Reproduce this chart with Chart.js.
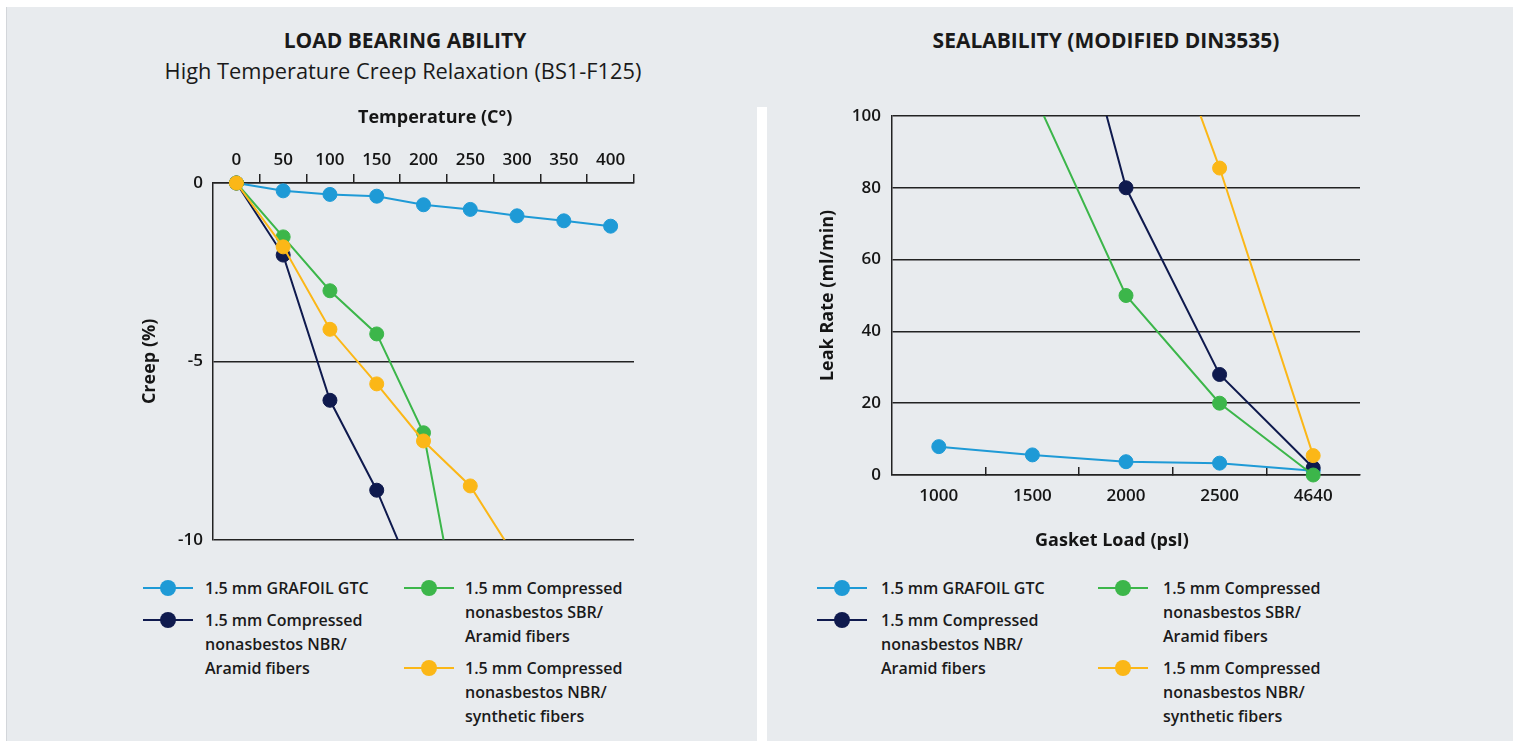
<!DOCTYPE html>
<html><head><meta charset="utf-8">
<script src="https://cdn.jsdelivr.net/npm/chart.js@4.4.1/dist/chart.umd.min.js"></script>
<style>
html,body{margin:0;padding:0;background:#fff;}
body{width:1519px;height:741px;position:relative;overflow:hidden;font-family:'Open Sans',sans-serif;color:#1a1a1a;}
#panel{position:absolute;left:6px;top:7px;width:1507px;height:734px;background:#e8ebee;border-left:1px solid #d3d6da;box-sizing:border-box;}
#sep{position:absolute;left:757px;top:107px;width:10px;height:634px;background:#fff;}
.h{position:absolute;text-align:center;white-space:nowrap;transform:translateX(-50%);line-height:24px;}
.cv{position:absolute;}
.item{position:absolute;font-size:16px;font-weight:600;line-height:24px;}
.sw{position:absolute;left:0;top:0;width:50px;height:24px;}
.sw i{position:absolute;left:0;right:0;top:11px;height:2px;}
.sw b{position:absolute;left:17px;top:4px;width:16px;height:16px;border-radius:50%;}
.tx{position:absolute;top:0;white-space:pre;}
</style></head>
<body>
<div id="panel"></div>
<div id="sep"></div>
<div class="h" style="left:405px;top:28px;font-size:21px;font-weight:700;">LOAD BEARING ABILITY</div>
<div class="h" style="left:403px;top:59px;font-size:21.8px;font-weight:500;">High Temperature Creep Relaxation (BS1-F125)</div>
<div class="h" style="left:1106px;top:28px;font-size:21px;font-weight:700;">SEALABILITY (MODIFIED DIN3535)</div>
<canvas id="c1" class="cv" width="530" height="470" style="left:120px;top:90px;"></canvas>
<canvas id="c2" class="cv" width="580" height="480" style="left:800px;top:90px;"></canvas>
<div id="leg1"></div>
<div id="leg2"></div>
<script>
// ---- shared series ----
const seriesNames = [
  '1.5 mm GRAFOIL GTC',
  '1.5 mm Compressed\nnonasbestos NBR/\nAramid fibers',
  '1.5 mm Compressed\nnonasbestos SBR/\nAramid fibers',
  '1.5 mm Compressed\nnonasbestos NBR/\nsynthetic fibers'
];
const seriesColors = ['#1e9ad6', '#0f1a4e', '#3cb64a', '#fbb717'];
const drawOrder = [4, 3, 2, 1];

// ---- chart 1: creep vs temperature ----
const temperatureLabels = ['0', '50', '100', '150', '200', '250', '300', '350', '400'];
const creepGrafoil      = [0, -0.22, -0.32, -0.37, -0.61, -0.74, -0.92, -1.06, -1.21];
const creepNbrAramid    = [0, -2.02, -6.09, -8.61, -11.7, null, null, null, null];
const creepSbrAramid    = [0, -1.51, -3.02, -4.23, -7.0, -14.0, null, null, null];
const creepNbrSynthetic = [0, -1.79, -4.10, -5.63, -7.23, -8.49, -10.56, null, null];
const creepTicks = { min: -10, max: 0, step: 5 };

// ---- chart 2: leak rate vs gasket load ----
const loadLabels       = ['1000', '1500', '2000', '2500', '4640'];
const leakGrafoil      = [7.9, 5.6, 3.7, 3.3, 1.2];
const leakNbrAramid    = [null, 177, 80, 28, 2];
const leakSbrAramid    = [null, 107, 50, 20, 0];
const leakNbrSynthetic = [null, null, 157, 85.5, 5.4];
const leakTicks = { min: 0, max: 100, step: 20 };

const INK = '#151515';
const LINE = '#222';
Chart.defaults.font.family = "'Open Sans', sans-serif";
Chart.defaults.color = INK;

function makeDatasets(seriesValues, clip) {
  return seriesValues.map((vals, i) => ({
    label: seriesNames[i].replace(/\n/g, ' '),
    data: vals,
    borderColor: seriesColors[i],
    backgroundColor: seriesColors[i],
    pointBackgroundColor: seriesColors[i],
    pointBorderColor: seriesColors[i],
    borderWidth: 2,
    pointRadius: 7,
    pointBorderWidth: 1,
    tension: 0,
    spanGaps: false,
    order: drawOrder[i],
    clip: clip
  }));
}

const tickFont = { size: 17, weight: '600' };
const titleFont = { size: 18, weight: '700' };

new Chart(document.getElementById('c1'), {
  type: 'line',
  data: {
    labels: temperatureLabels,
    datasets: makeDatasets([creepGrafoil, creepNbrAramid, creepSbrAramid, creepNbrSynthetic],
                           { top: 12, left: 12, right: 12, bottom: 0 })
  },
  options: {
    responsive: false, animation: false,
    layout: { padding: { left: 0, top: 0, right: 16, bottom: 19 } },
    plugins: { legend: { display: false }, tooltip: { enabled: false } },
    scales: {
      x: {
        type: 'category', position: 'top', offset: true,
        afterFit: s => { s.height = 93; },
        grid: { offset: true, drawOnChartArea: false, drawTicks: true, tickLength: 9, lineWidth: 1.5,
                color: LINE, tickColor: c => (c.index === 0 ? 'rgba(0,0,0,0)' : LINE) },
        border: { display: true, color: LINE, width: 1.5 },
        ticks: { font: tickFont, color: INK, padding: 4, maxRotation: 0, autoSkip: false },
        title: { display: true, text: '     Temperature (C°)', font: titleFont, color: INK, padding: { top: 17, bottom: 0 } }
      },
      y: {
        type: 'linear', min: creepTicks.min, max: creepTicks.max,
        afterFit: s => { s.width = 93; },
        grid: { color: LINE, lineWidth: 1.5, drawTicks: false },
        border: { display: true, color: LINE, width: 1.5 },
        ticks: { stepSize: creepTicks.step, font: tickFont, color: INK, padding: 10 },
        title: { display: true, text: 'Creep (%)', font: titleFont, color: INK, padding: { top: 19, bottom: 0 } }
      }
    }
  }
});

new Chart(document.getElementById('c2'), {
  type: 'line',
  data: {
    labels: loadLabels,
    datasets: makeDatasets([leakGrafoil, leakNbrAramid, leakSbrAramid, leakNbrSynthetic],
                           { top: 0, left: 12, right: 12, bottom: 12 })
  },
  options: {
    responsive: false, animation: false,
    layout: { padding: { left: 0, top: 26, right: 20, bottom: 0 } },
    plugins: { legend: { display: false }, tooltip: { enabled: false } },
    scales: {
      x: {
        type: 'category', position: 'bottom', offset: true,
        afterFit: s => { s.height = 95; },
        grid: { offset: true, drawOnChartArea: false, drawTicks: true, tickLength: -8, lineWidth: 1.5,
                color: LINE, tickColor: c => (c.index > 0 ? LINE : 'rgba(0,0,0,0)') },
        border: { display: true, color: LINE, width: 1.5 },
        ticks: { font: tickFont, color: INK, padding: 19, maxRotation: 0, autoSkip: false },
        title: { display: true, text: 'Gasket Load (psI)      ', font: titleFont, color: INK, padding: { top: 0, bottom: 18.5 } }
      },
      y: {
        type: 'linear', min: leakTicks.min, max: leakTicks.max,
        afterFit: s => { s.width = 92; },
        grid: { color: LINE, lineWidth: 1.5, drawTicks: false },
        border: { display: true, color: LINE, width: 1.5 },
        ticks: { stepSize: leakTicks.step, font: tickFont, color: INK, padding: 11 },
        title: { display: true, text: 'Leak Rate (ml/min)', font: titleFont, color: INK, padding: { top: 17, bottom: 0 } }
      }
    }
  }
});

// ---- HTML legends built from the series arrays ----
function buildLegend(hostId, positions) {
  const host = document.getElementById(hostId);
  seriesNames.forEach((name, i) => {
    const p = positions[i];
    const item = document.createElement('div');
    item.className = 'item';
    item.style.left = p.x + 'px';
    item.style.top = (p.y - 12) + 'px';
    const sw = document.createElement('span');
    sw.className = 'sw';
    sw.innerHTML = '<i style="background:' + seriesColors[i] + '"></i><b style="background:' + seriesColors[i] + '"></b>';
    const tx = document.createElement('span');
    tx.className = 'tx';
    tx.style.left = p.tx + 'px';
    tx.textContent = name;
    item.appendChild(sw);
    item.appendChild(tx);
    host.appendChild(item);
  });
}
buildLegend('leg1', [
  { x: 143, y: 588, tx: 62 }, { x: 143, y: 620, tx: 62 },
  { x: 404, y: 588, tx: 61 }, { x: 404, y: 668, tx: 61 }
]);
buildLegend('leg2', [
  { x: 817, y: 588, tx: 64 }, { x: 817, y: 620, tx: 64 },
  { x: 1098, y: 588, tx: 65 }, { x: 1098, y: 668, tx: 65 }
]);
</script>
</body></html>
